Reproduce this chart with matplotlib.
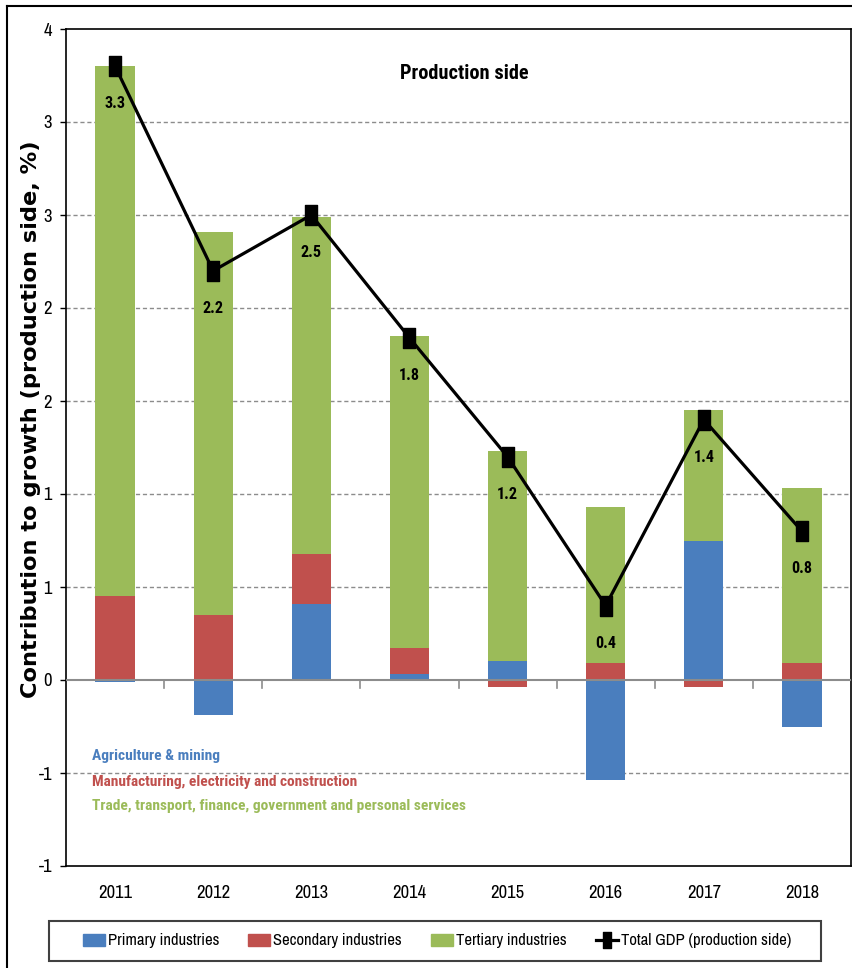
import math
import matplotlib
matplotlib.use("Agg")
import matplotlib.pyplot as plt
from matplotlib import font_manager as fm
from matplotlib.path import Path
from matplotlib.ticker import FuncFormatter, MultipleLocator
from matplotlib.lines import Line2D
from matplotlib.patches import Patch, Rectangle

# Contributions to real GDP growth by sector (percentage points)
years = ["2011", "2012", "2013", "2014", "2015", "2016", "2017", "2018"]
primary = [-0.01, -0.19, 0.41, 0.03, 0.10, -0.54, 0.75, -0.25]
secondary = [0.45, 0.35, 0.27, 0.14, -0.04, 0.09, -0.04, 0.09]
tertiary = [2.85, 2.06, 1.81, 1.68, 1.13, 0.84, 0.70, 0.94]
total_gdp = [3.3, 2.2, 2.5, 1.84, 1.2, 0.4, 1.4, 0.8]

series_names = ["Primary industries", "Secondary industries",
                "Tertiary industries", "Total GDP (production side)"]
sector_notes = ["Agriculture & mining",
                "Manufacturing, electricity and construction",
                "Trade, transport, finance, government and personal services"]
y_title = "Contribution to growth (production side, %)"
chart_title = "Production side"

BLUE = "#4A7EBE"
RED = "#C0504D"
GREEN = "#9BBB59"
GRID = "#8C8C8C"

# ---- font selection: narrow grotesque for most text, extended for the axis title
_weights = {}
for f in fm.fontManager.ttflist:
    w = f.weight if isinstance(f.weight, int) else fm.weight_dict.get(f.weight, 400)
    _weights.setdefault(f.name, set()).add(w)


def pick(cands, bold=False):
    for c in cands:
        if c in _weights and (not bold or max(_weights[c]) >= 600):
            return c
    return "DejaVu Sans"


NARROW_CANDS = ["Liberation Sans Narrow", "Arial Narrow", "Archivo Narrow", "Roboto Condensed",
                "PT Sans Narrow", "IBM Plex Sans Condensed", "Fira Sans Condensed",
                "Sofia Sans Condensed", "Saira SemiCondensed", "Liberation Sans"]
F_REG = [pick(NARROW_CANDS), "DejaVu Sans"]
F_BOLD = [pick(NARROW_CANDS, bold=True), "DejaVu Sans"]

plt.rcParams["font.family"] = F_REG

W, H = 852, 968
fig = plt.figure(figsize=(W / 100, H / 100), dpi=100)
ax = fig.add_axes([66 / W, 1 - 866 / H, (851 - 66) / W, (866 - 29) / H])


def measure(t, vertical=False):
    fig.canvas.draw()
    bb = t.get_window_extent(fig.canvas.get_renderer())
    return bb.height if vertical else bb.width


def fit(t, target_px, vertical=False):
    for _ in range(2):
        cur = measure(t, vertical)
        if cur > 0:
            t.set_fontsize(t.get_fontsize() * target_px / cur)


# widest bold face available for the rotated axis title
WIDE_CANDS = ["Encode Sans Expanded", "Encode Sans Semi Expanded", "Zalando Sans Expanded",
              "Verdana", "DejaVu Sans"]
_best, _best_w = "DejaVu Sans", 0.0
for fam in WIDE_CANDS:
    if fam not in _weights or max(_weights[fam]) < 600:
        continue
    probe = fig.text(0.5, 0.5, y_title, family=[fam], fontweight="bold", fontsize=12)
    wpx = measure(probe)
    probe.remove()
    if wpx > _best_w:
        _best, _best_w = fam, wpx
F_WIDE = [_best, "DejaVu Sans"]

x = list(range(len(years)))
bar_w = 0.40

# stack positive and negative parts separately
pos_base = [0.0] * len(x)
neg_base = [0.0] * len(x)
for vals, col in [(primary, BLUE), (secondary, RED), (tertiary, GREEN)]:
    bottoms = []
    for i, v in enumerate(vals):
        if v >= 0:
            bottoms.append(pos_base[i])
            pos_base[i] += v
        else:
            bottoms.append(neg_base[i])
            neg_base[i] += v
    ax.bar(x, vals, bar_w, bottom=bottoms, color=col, edgecolor="none", zorder=2)

# tall rectangular marker
rect = Path([(-0.29, -0.5), (0.29, -0.5), (0.29, 0.5), (-0.29, 0.5), (-0.29, -0.5)],
            [Path.MOVETO, Path.LINETO, Path.LINETO, Path.LINETO, Path.CLOSEPOLY])
ax.plot(x, total_gdp, color="black", lw=2.3, marker=rect, markersize=14,
        markerfacecolor="black", markeredgecolor="black", zorder=4)

ax.set_xlim(-0.5, len(years) - 0.5)
ax.set_ylim(-1, 3.5)
ax.yaxis.set_major_locator(MultipleLocator(0.5))


def round_label(v, pos):
    r = math.copysign(math.floor(abs(v) + 0.5), v)
    return f"{int(r)}"


ax.yaxis.set_major_formatter(FuncFormatter(round_label))
ax.set_xticks(x)
ax.set_xticklabels(years)
ax.tick_params(axis="y", length=4, width=1, color="black", labelsize=14, pad=6)
ax.tick_params(axis="x", length=0, labelsize=14, pad=14)
tick_fs = 14 * 34.0 / measure(ax.get_xticklabels()[0])
ax.tick_params(axis="both", labelsize=tick_fs)

value_labels = []
for xi, v in zip(x, total_gdp):
    t = ax.annotate(f"{v:.1f}", (xi, v), xytext=(0, -27), textcoords="offset points",
                    ha="center", va="center", fontsize=13, family=F_BOLD,
                    fontweight="bold", zorder=5)
    value_labels.append(t)
fit(value_labels[0], 21)
for t in value_labels[1:]:
    t.set_fontsize(value_labels[0].get_fontsize())

# dashed gridlines, solid zero line
for yv in [-0.5, 0.5, 1.0, 1.5, 2.0, 2.5, 3.0]:
    ax.axhline(yv, color=GRID, lw=1.0, ls=(0, (3, 2)), zorder=1)
ax.axhline(0, color=GRID, lw=1.5, zorder=3)
for b in [i + 0.5 for i in x[:-1]]:
    ax.plot([b, b], [0, -0.045], color=GRID, lw=1.2, zorder=3)

for s in ax.spines.values():
    s.set_color("black")
    s.set_linewidth(1.2)

ylab = fig.text(31 / W, 1 - 419 / H, y_title, rotation=90, ha="center", va="center",
                family=F_WIDE, fontweight="bold", fontsize=12)
fit(ylab, 556, vertical=True)

title = ax.text(0.507, 0.947, chart_title, transform=ax.transAxes, ha="center",
                va="center", fontsize=15, family=F_BOLD, fontweight="bold")
fit(title, 128)

note_widths = [127, 265, 374]
for note, col, yy, wpx in zip(sector_notes, [BLUE, RED, GREEN],
                              [0.1314, 0.1004, 0.0717], note_widths):
    t = ax.text(0.033, yy, note, transform=ax.transAxes, ha="left", va="center",
                color=col, fontsize=12.5, family=F_BOLD, fontweight="bold")
    fit(t, wpx)

# outer frame of the figure
fig.add_artist(Line2D([7 / W, 7 / W], [0, 1 - 6 / H], color="black", lw=1.5))
fig.add_artist(Line2D([7 / W, 1], [1 - 6 / H, 1 - 6 / H], color="black", lw=1.5))

# legend below the plot
handles = [Patch(color=BLUE), Patch(color=RED), Patch(color=GREEN),
           Line2D([], [], color="black", lw=2.3, marker=rect, markersize=11)]


def make_legend(fs):
    px = fs * 100 / 72
    return fig.legend(handles, series_names, loc="center",
                      bbox_to_anchor=(437 / W, 1 - 941 / H), ncol=4, fontsize=fs,
                      frameon=False, handlelength=22 / px, handleheight=12 / px,
                      handletextpad=3 / px, columnspacing=29 / px)


leg = make_legend(13)
leg_fs = 13 * 112.0 / measure(leg.get_texts()[0])
leg.remove()
leg = make_legend(leg_fs)
fig.add_artist(Rectangle((49 / W, 1 - 961 / H), (821 - 49) / W, 40 / H,
                         transform=fig.transFigure, fill=False,
                         edgecolor="#404040", lw=1.5))

fig.savefig("out.png", dpi=100)
